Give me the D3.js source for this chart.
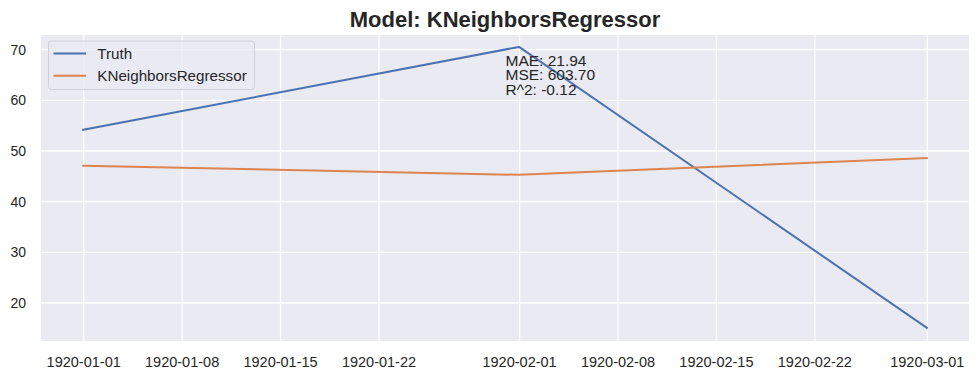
<!DOCTYPE html>
<html>
<head>
<meta charset="utf-8">
<script src="https://cdn.jsdelivr.net/npm/d3@7"></script>
<style>
  html, body { margin: 0; padding: 0; background: #ffffff; }
  svg { display: block; font-family: "Liberation Sans", Arial, sans-serif; }
</style>
</head>
<body>
<svg id="chart" width="980" height="379"></svg>
<script>
// ---- data ----
const dates = ["1920-01-01", "1920-02-01", "1920-03-01"];
const truthValues = [54.1, 70.45, 15.0];
const predValues = [47.0, 45.2, 48.5];
const seriesNames = ["Truth", "KNeighborsRegressor"];
const xTickLabels = ["1920-01-01", "1920-01-08", "1920-01-15", "1920-01-22", "1920-02-01",
                     "1920-02-08", "1920-02-15", "1920-02-22", "1920-03-01"];
const yTickValues = [20, 30, 40, 50, 60, 70];
const yDomain = [12.4, 72.8];
const xDomain = ["1919-12-29", "1920-03-04"];
const titleText = "Model: KNeighborsRegressor";
const statsLines = ["MAE: 21.94", "MSE: 603.70", "R^2: -0.12"];

// ---- layout ----
const W = 980, H = 379;
const plot = { left: 41, right: 969, top: 35, bottom: 341 };
const colors = ["#4c72b0", "#dd8452"];
const textColor = "#262626";
const parse = d3.utcParse("%Y-%m-%d");

const svg = d3.select("#chart");

const x = d3.scaleUtc()
  .domain(xDomain.map(parse))
  .range([plot.left, plot.right]);
const y = d3.scaleLinear()
  .domain(yDomain)
  .range([plot.bottom, plot.top]);

// background
svg.append("rect")
  .attr("x", plot.left).attr("y", plot.top)
  .attr("width", plot.right - plot.left)
  .attr("height", plot.bottom - plot.top)
  .attr("fill", "#eaeaf2");

// clip
svg.append("clipPath").attr("id", "clip")
  .append("rect")
  .attr("x", plot.left).attr("y", plot.top)
  .attr("width", plot.right - plot.left)
  .attr("height", plot.bottom - plot.top);

const xTicks = xTickLabels.map(parse);

// x grid + labels via axis
const xAxis = d3.axisBottom(x)
  .tickValues(xTicks)
  .tickFormat(d3.utcFormat("%Y-%m-%d"))
  .tickSize(plot.bottom - plot.top)
  .tickPadding(0);
const gx = svg.append("g")
  .attr("transform", `translate(0,${plot.top})`)
  .call(xAxis);
gx.select(".domain").remove();
gx.selectAll(".tick line").attr("stroke", "#ffffff").attr("stroke-width", 1.3);
gx.selectAll(".tick text")
  .attr("y", plot.bottom - plot.top + 25.7)
  .attr("dy", null)
  .attr("fill", textColor)
  .style("font-size", "14.5px")
  .style("font-family", "'Liberation Sans', Arial, sans-serif");

// y grid + labels
const yAxis = d3.axisLeft(y)
  .tickValues(yTickValues)
  .tickFormat(d3.format("d"))
  .tickSize(-(plot.right - plot.left))
  .tickPadding(15);
const gy = svg.append("g")
  .attr("transform", `translate(${plot.left},0)`)
  .call(yAxis);
gy.select(".domain").remove();
gy.selectAll(".tick line").attr("stroke", "#ffffff").attr("stroke-width", 1.3);
gy.selectAll(".tick text")
  .attr("dy", "0.36em")
  .attr("fill", textColor)
  .style("font-size", "14px")
  .style("font-family", "'Liberation Sans', Arial, sans-serif");

// lines
const series = [truthValues, predValues];
const line = d3.line()
  .x((d, i) => x(parse(dates[i])))
  .y(d => y(d));
const gl = svg.append("g").attr("clip-path", "url(#clip)");
series.forEach((vals, k) => {
  gl.append("path")
    .datum(vals)
    .attr("d", line)
    .attr("fill", "none")
    .attr("stroke", colors[k])
    .attr("stroke-width", 2)
    .attr("stroke-linejoin", "round")
    .attr("stroke-linecap", "square");
});

// stats text
const st = svg.append("text")
  .attr("x", 505.5)
  .attr("y", 66)
  .attr("fill", textColor)
  .style("font-size", "15.5px");
statsLines.forEach((s, i) => {
  st.append("tspan").attr("x", 505.5).attr("y", 66 + i * 14.4).text(s);
});

// legend
const lg = svg.append("g");
lg.append("rect")
  .attr("x", 48.5).attr("y", 41)
  .attr("width", 206).attr("height", 48.5)
  .attr("rx", 3).attr("ry", 3)
  .attr("fill", "#eaeaf2").attr("fill-opacity", 0.8)
  .attr("stroke", "#cfcfd6").attr("stroke-width", 1);
seriesNames.forEach((name, i) => {
  const yy = 53.5 + i * 22.3;
  lg.append("line")
    .attr("x1", 53.5).attr("x2", 86)
    .attr("y1", yy).attr("y2", yy)
    .attr("stroke", colors[i]).attr("stroke-width", 2);
  lg.append("text")
    .attr("x", 97.3).attr("y", yy)
    .attr("dy", "0.35em")
    .attr("fill", textColor)
    .style("font-size", "15.2px")
    .text(name);
});

// title
svg.append("text")
  .attr("x", (plot.left + plot.right) / 2)
  .attr("y", 26.5)
  .attr("text-anchor", "middle")
  .attr("fill", textColor)
  .style("font-size", "22px")
  .style("font-weight", "bold")
  .text(titleText);
</script>
</body>
</html>
